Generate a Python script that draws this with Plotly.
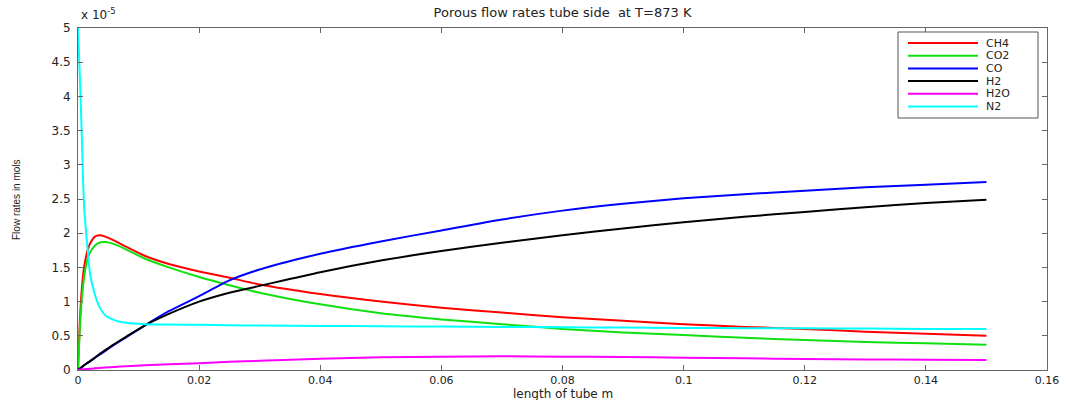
import plotly.graph_objects as go

# Axial position along the tube (m)
length_m = [0, 0.0003, 0.0006, 0.001, 0.0015, 0.002, 0.0028, 0.0035, 0.0045, 0.006,
            0.008, 0.011, 0.015, 0.02, 0.025, 0.03, 0.04, 0.05, 0.06, 0.07,
            0.08, 0.09, 0.1, 0.11, 0.12, 0.13, 0.14, 0.15]

# Flow rates (x 1e-5 mol/s) for each species
ch4 = [0, 0.70, 1.15, 1.50, 1.72, 1.85, 1.95, 1.97, 1.95, 1.89,
       1.80, 1.67, 1.55, 1.44, 1.35, 1.25, 1.11, 1.00, 0.91, 0.84,
       0.77, 0.72, 0.67, 0.63, 0.60, 0.56, 0.53, 0.50]
co2 = [0, 0.60, 1.00, 1.35, 1.60, 1.72, 1.82, 1.86, 1.87, 1.84,
       1.76, 1.63, 1.50, 1.36, 1.24, 1.13, 0.96, 0.83, 0.74, 0.67,
       0.60, 0.55, 0.51, 0.47, 0.44, 0.41, 0.39, 0.37]
co = [0, 0.02, 0.04, 0.07, 0.10, 0.13, 0.18, 0.22, 0.28, 0.37,
      0.48, 0.65, 0.86, 1.08, 1.31, 1.47, 1.70, 1.88, 2.04, 2.20,
      2.33, 2.43, 2.51, 2.57, 2.62, 2.67, 2.71, 2.75]
h2 = [0, 0.02, 0.04, 0.07, 0.10, 0.13, 0.18, 0.23, 0.29, 0.38,
      0.49, 0.65, 0.82, 1.00, 1.13, 1.23, 1.43, 1.60, 1.74, 1.86,
      1.97, 2.07, 2.16, 2.24, 2.31, 2.38, 2.44, 2.49]
h2o = [0, 0.00, 0.01, 0.01, 0.015, 0.02, 0.025, 0.03, 0.035, 0.045,
       0.055, 0.07, 0.085, 0.10, 0.12, 0.135, 0.165, 0.185, 0.195, 0.20,
       0.195, 0.19, 0.18, 0.17, 0.16, 0.155, 0.15, 0.145]
n2 = [5.0, 4.3, 3.5, 2.4, 1.85, 1.4, 1.1, 0.93, 0.80, 0.73,
      0.69, 0.67, 0.665, 0.66, 0.655, 0.65, 0.645, 0.64, 0.635, 0.63,
      0.625, 0.62, 0.615, 0.61, 0.61, 0.605, 0.60, 0.60]

species = ["CH4", "CO2", "CO", "H2", "H2O", "N2"]
series = [ch4, co2, co, h2, h2o, n2]
colors = ["#ff0000", "#10e010", "#0000ff", "#000000", "#ff00ff", "#00ffff"]

x_ticks = [0, 0.02, 0.04, 0.06, 0.08, 0.1, 0.12, 0.14, 0.16]
x_tick_text = ["0", "0.02", "0.04", "0.06", "0.08", "0.1", "0.12", "0.14", "0.16"]
y_ticks = [0, 0.5, 1, 1.5, 2, 2.5, 3, 3.5, 4, 4.5, 5]
y_tick_text = ["0", "0.5", "1", "1.5", "2", "2.5", "3", "3.5", "4", "4.5", "5"]

FONT = "DejaVu Sans, sans-serif"
NARROW = "Liberation Sans, Arial, sans-serif"
TXT = "#222222"

fig = go.Figure()
for name, vals, col in zip(species, series, colors):
    fig.add_trace(go.Scatter(
        x=length_m, y=vals, name=name, mode="lines",
        line=dict(color=col, width=2, shape="spline", smoothing=0.6),
        showlegend=False,
    ))

W, H = 1068, 400
L, R, T, B = 78, 21, 28, 30
pw, ph = W - L - R, H - T - B


def px_x(px):
    return (px - L) / pw


def px_y(py):
    return (H - B - py) / ph


# Boxed legend in the upper-right corner
fig.add_shape(type="rect", xref="paper", yref="paper",
              x0=px_x(898), x1=px_x(1038), y0=px_y(118), y1=px_y(32),
              line=dict(color="#555555", width=1), fillcolor="white", layer="above")
for i, (name, col) in enumerate(zip(species, colors)):
    yy = px_y(43 + i * 12.7)
    fig.add_shape(type="line", xref="paper", yref="paper",
                  x0=px_x(908), x1=px_x(978), y0=yy, y1=yy,
                  line=dict(color=col, width=2), layer="above")
    fig.add_annotation(xref="paper", yref="paper", x=px_x(984), y=yy,
                       text=name, showarrow=False, xanchor="left", yanchor="middle",
                       font=dict(family=FONT, size=11, color=TXT))

# Axis multiplier
fig.add_annotation(xref="paper", yref="paper", x=px_x(79), y=px_y(14),
                   text="x 10<sup>-5</sup>", showarrow=False, xanchor="left",
                   yanchor="middle", font=dict(family=FONT, size=12, color=TXT))

# Axis titles
fig.add_annotation(xref="paper", yref="paper", x=0.5, y=px_y(394),
                   text="length of tube m", showarrow=False, xanchor="center",
                   yanchor="middle", borderpad=0,
                   font=dict(family=FONT, size=12, color=TXT))
fig.add_annotation(xref="paper", yref="paper", x=px_x(16), y=px_y(200),
                   text="Flow rates in mols", textangle=-90, showarrow=False,
                   xanchor="center", yanchor="middle",
                   font=dict(family=NARROW, size=10, color=TXT))

axis_common = dict(
    showline=True, linecolor="#666666", linewidth=1, mirror="ticks",
    ticks="inside", ticklen=5, tickcolor="#666666", showgrid=False,
    zeroline=False, automargin=False,
)

fig.update_layout(
    width=W, height=H,
    margin=dict(l=L, r=R, t=T, b=B),
    paper_bgcolor="white", plot_bgcolor="white",
    title=dict(text="Porous flow rates tube side  at T=873 K",
               x=(L + pw / 2) / W, xanchor="center", y=1 - 12 / H, yanchor="middle",
               font=dict(family=FONT, size=13, color=TXT)),
    xaxis=dict(range=[0, 0.16], tickvals=x_ticks, ticktext=x_tick_text,
               ticklabelstandoff=0, tickfont=dict(family=FONT, size=11, color=TXT),
               **axis_common),
    yaxis=dict(range=[0, 5], tickvals=y_ticks, ticktext=y_tick_text,
               ticklabelstandoff=4, tickfont=dict(family=FONT, size=12, color=TXT),
               **axis_common),
)

fig.write_html("out.html")
